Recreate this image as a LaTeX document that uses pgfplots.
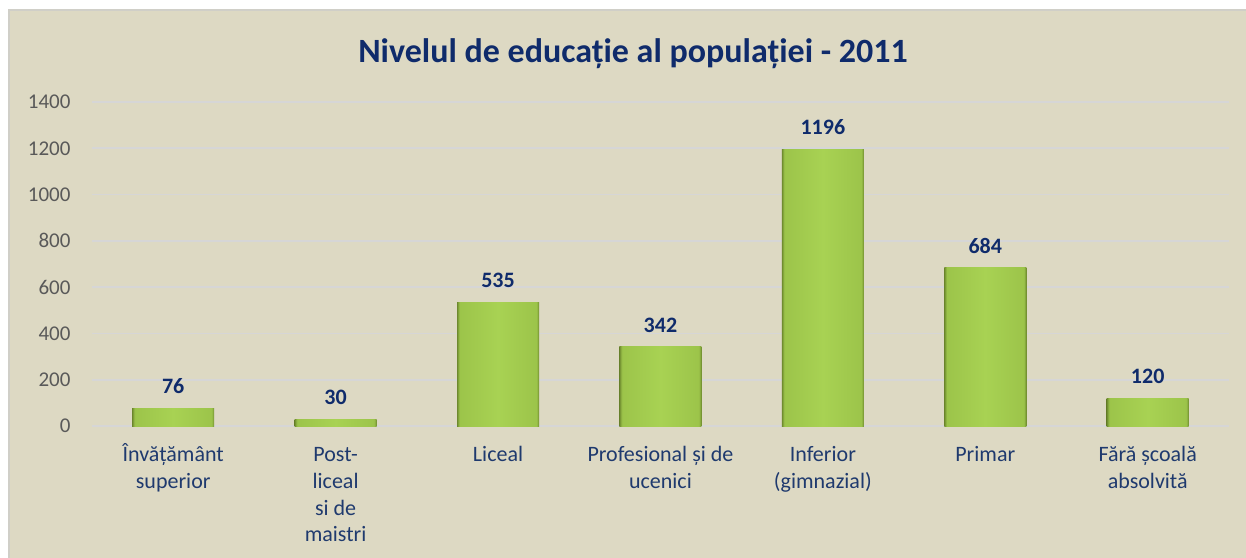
\documentclass[border=0pt]{standalone}
\usepackage{fontspec}
\setmainfont{Carlito}
\usepackage{pgfplots}
\pgfplotsset{compat=1.18}
\definecolor{bgtan}{HTML}{DDD9C3}
\definecolor{bordergray}{HTML}{D0CFC8}
\definecolor{gridgray}{HTML}{D6D6D6}
\definecolor{navy}{HTML}{0F2B6B}
\definecolor{catnavy}{HTML}{1F3A6E}
\definecolor{tickgray}{HTML}{595959}
\definecolor{bdark}{HTML}{6E8A2E}
\definecolor{bmid}{HTML}{9CC44A}
\definecolor{bmain}{HTML}{A8D253}
\pgfdeclarehorizontalshading{barshade}{100bp}{color(0bp)=(bdark); color(25bp)=(bdark); color(26.5bp)=(bmid); color(50bp)=(bmain); color(73.5bp)=(bmid); color(75bp)=(bdark); color(100bp)=(bdark)}
\pgfplotsset{greenbar/.style={ybar, bar width=82pt, draw=none, shade, shading=barshade}}
\newcommand{\ph}{\vphantom{Î}}
\begin{document}
\begin{tikzpicture}
\useasboundingbox (0,0) rectangle (1246pt,557pt);
\fill[white] (0,0) rectangle (1246pt,557pt);
\fill[bgtan, draw=bordergray, line width=1.2pt] (9pt,-2pt) rectangle (1250pt,547pt);
\begin{axis}[
  at={(92pt,131pt)}, anchor=south west,
  scale only axis, width=1137pt, height=324pt,
  xmin=-0.5, xmax=6.5, ymin=0, ymax=1400,
  ytick={0,200,...,1400},
  xtick={0,...,6},
  xticklabels={{Învățământ\\superior},{\ph Post-\\liceal\\si de\\maistri},{\ph Liceal},{\ph Profesional și de\\ucenici},{\ph Inferior\\(gimnazial)},{\ph Primar},{\ph Fără școală\\absolvită}},
  axis line style={draw=none},
  major tick style={draw=none},
  ymajorgrids, grid style={gridgray, line width=1.6pt},
  /pgf/number format/assume math mode=true,
  /pgf/number format/1000 sep={},
  yticklabel style={font=\fontsize{21}{25}\selectfont, text=tickgray, xshift=-18pt},
  xticklabel style={font=\fontsize{22}{26.8}\selectfont, text=catnavy, align=center, anchor=north, yshift=-14pt},
  scaled y ticks=false,
  nodes near coords,
  nodes near coords style={font=\bfseries\fontsize{22}{26}\selectfont, text=navy, anchor=south, yshift=11pt},
  clip=false,
]
\addplot[greenbar] coordinates {(0,76)};
\addplot[greenbar] coordinates {(1,30)};
\addplot[greenbar] coordinates {(2,535)};
\addplot[greenbar] coordinates {(3,342)};
\addplot[greenbar] coordinates {(4,1196)};
\addplot[greenbar] coordinates {(5,684)};
\addplot[greenbar] coordinates {(6,120)};
\end{axis}
\node[font=\bfseries\fontsize{34}{38}\selectfont, text=navy] at (633pt,503pt) {Nivelul de educație al populației - 2011};
\end{tikzpicture}
\end{document}
